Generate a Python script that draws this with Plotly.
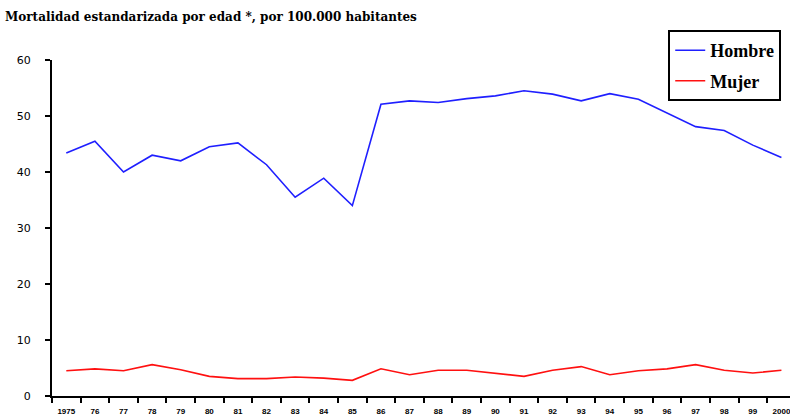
import plotly.graph_objects as go

# Years shown on the category axis
years = ["1975", "76", "77", "78", "79", "80", "81", "82", "83", "84", "85", "86", "87",
         "88", "89", "90", "91", "92", "93", "94", "95", "96", "97", "98", "99", "2000"]

# Age-standardised mortality per 100,000 inhabitants
hombre = [43.4, 45.5, 40.0, 43.0, 42.0, 44.5, 45.2, 41.3, 35.5, 38.9, 34.0, 52.1, 52.7,
          52.4, 53.1, 53.6, 54.5, 53.9, 52.7, 54.0, 53.0, 50.5, 48.1, 47.4, 44.8, 42.6]
mujer = [4.5, 4.85, 4.5, 5.6, 4.7, 3.5, 3.1, 3.1, 3.4, 3.2, 2.8, 4.85, 3.8,
         4.6, 4.6, 4.1, 3.5, 4.6, 5.25, 3.8, 4.5, 4.85, 5.6, 4.6, 4.1, 4.6]

y_ticks = [0, 10, 20, 30, 40, 50, 60]

fig = go.Figure()
fig.add_trace(go.Scatter(x=years, y=hombre, mode="lines", name="Hombre",
                         legendgroup="h", line=dict(color="#1f1fff", width=1.6)))
fig.add_trace(go.Scatter(x=years, y=mujer, mode="lines", name="Mujer",
                         legendgroup="m", line=dict(color="#ff1010", width=1.6)))

fig.update_layout(
    width=790, height=419,
    margin=dict(l=52, r=0, t=60, b=23),
    paper_bgcolor="white", plot_bgcolor="white",
    title=dict(text="Mortalidad estandarizada por edad *, por 100.000 habitantes",
               x=5 / 790, xanchor="left", xref="container",
               y=1 - 17 / 419, yanchor="middle", yref="container",
               font=dict(family="DejaVu Serif", size=12, color="black", weight="bold")),
    showlegend=True,
    legend=dict(x=0.835, xanchor="left", y=1.089, yanchor="top",
                bordercolor="black", borderwidth=2, bgcolor="white",
                tracegroupgap=4,
                font=dict(family="Liberation Serif", size=18, color="black", weight="bold")),
    xaxis=dict(type="category", range=[-0.5, 25.3], showline=True, linecolor="black",
               linewidth=2, ticks="outside", tickson="boundaries", ticklen=5,
               tickwidth=2, tickcolor="black", showgrid=False, zeroline=False,
               ticklabelstandoff=6,
               tickfont=dict(family="Liberation Sans", size=8, color="black", weight="bold")),
    yaxis=dict(range=[0, 60], tickvals=y_ticks, showline=True, linecolor="black",
               linewidth=2, ticks="outside", ticklen=5, tickwidth=2, tickcolor="black",
               showgrid=False, zeroline=False, ticklabelstandoff=12,
               tickfont=dict(family="DejaVu Sans", size=11, color="black")),
)

fig.write_html("out.html")
